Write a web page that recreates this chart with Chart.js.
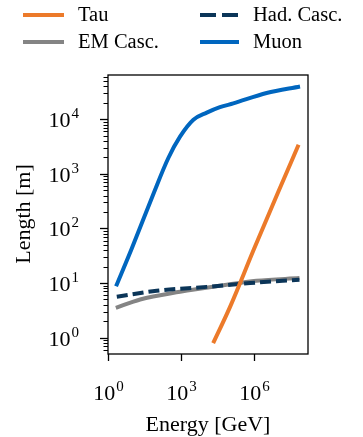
<!DOCTYPE html>
<html>
<head>
<meta charset="utf-8">
<script src="https://cdn.jsdelivr.net/npm/chart.js@4/dist/chart.umd.min.js"></script>
<style>
  html, body { margin: 0; padding: 0; background: #fff; }
  #wrap { width: 363px; height: 437px; }
</style>
</head>
<body>
<div id="wrap"><canvas id="lengthChart" width="363" height="437"></canvas></div>
<script>
// energies in GeV, lengths in m
const muonEnergy = [2.14, 9.3, 72, 302, 912, 3240, 11500, 39800, 141000, 3.3e6, 7.8e7];
const muonLength = [8.7, 42, 420, 1950, 4790, 9770, 13200, 16600, 19500, 30200, 39800];
const tauEnergy = [2.1e4, 1.05e5, 1e6, 1e7, 6.8e7];
const tauLength = [0.79, 3.7, 42, 470, 3400];
const emEnergy = [2.1, 21, 912, 5.5e4, 1.26e6, 7.4e7];
const emLength = [3.5, 5.0, 6.9, 9.1, 11, 12.3];
const hadEnergy = [2.3, 100, 11500, 6.9e5, 7.4e7];
const hadLength = [5.6, 7.2, 8.5, 10, 11.5];

const xTickExps = [0, 3, 6];
const yTickExps = [0, 1, 2, 3, 4];

const SERIF = '"Liberation Serif", "Times New Roman", serif';

function pts(xs, ys) {
  return xs.map((x, i) => ({ x: x, y: ys[i] }));
}

// legend order matches the two-column layout (row by row)
const series = [
  { label: "Tau", color: "#ec7a2a", xs: tauEnergy, ys: tauLength, dash: [] },
  { label: "Had. Casc.", color: "#0b3558", xs: hadEnergy, ys: hadLength, dash: [11, 5] },
  { label: "EM Casc.", color: "#848484", xs: emEnergy, ys: emLength, dash: [] },
  { label: "Muon", color: "#0066bf", xs: muonEnergy, ys: muonLength, dash: [] },
];

function drawPow(ctx, exp, x, baseline, align) {
  ctx.font = "22px " + SERIF;
  const wBase = ctx.measureText("10").width;
  ctx.font = "15px " + SERIF;
  const wExp = ctx.measureText(String(exp)).width;
  const total = wBase + wExp + 1;
  let left = align === "right" ? x - total : x - total / 2;
  ctx.textAlign = "left";
  ctx.textBaseline = "alphabetic";
  ctx.font = "22px " + SERIF;
  ctx.fillText("10", left, baseline);
  ctx.font = "15px " + SERIF;
  ctx.fillText(String(exp), left + wBase + 1, baseline - 9);
}

const axesPlugin = {
  id: "axesPlugin",
  afterDraw(chart) {
    const ctx = chart.ctx;
    const a = chart.chartArea;
    const xs = chart.scales.x;
    const ys = chart.scales.y;
    ctx.save();
    ctx.strokeStyle = "#000";
    ctx.fillStyle = "#000";
    ctx.lineWidth = 1.3;
    ctx.strokeRect(a.left, a.top, a.right - a.left, a.bottom - a.top);

    // x ticks
    xTickExps.forEach((e) => {
      const px = Math.round(xs.getPixelForValue(Math.pow(10, e))) + 0.5;
      ctx.beginPath();
      ctx.moveTo(px, a.bottom);
      ctx.lineTo(px, a.bottom + 7);
      ctx.stroke();
      drawPow(ctx, e, px, 400, "center");
    });

    // y ticks, major and minor
    for (let e = -1; e <= 5; e++) {
      for (let m = 1; m <= 9; m++) {
        const v = m * Math.pow(10, e);
        if (v < ys.min || v > ys.max) continue;
        const py = Math.round(ys.getPixelForValue(v)) + 0.5;
        ctx.lineWidth = m === 1 ? 1.3 : 1;
        ctx.beginPath();
        ctx.moveTo(a.left, py);
        ctx.lineTo(a.left - (m === 1 ? 8 : 4.5), py);
        ctx.stroke();
      }
    }
    yTickExps.forEach((e) => {
      const py = ys.getPixelForValue(Math.pow(10, e));
      drawPow(ctx, e, 79, py + 8, "right");
    });

    // axis titles
    ctx.font = "22px " + SERIF;
    ctx.textAlign = "center";
    ctx.textBaseline = "alphabetic";
    ctx.fillText("Energy [GeV]", (a.left + a.right) / 2, 431);
    ctx.save();
    ctx.translate(30, 214);
    ctx.rotate(-Math.PI / 2);
    ctx.fillText("Length [m]", 0, 0);
    ctx.restore();

    // legend, two columns
    const cols = [{ x0: 23, x1: 64, tx: 78 }, { x0: 200, x1: 239, tx: 253 }];
    const rows = [15, 42];
    ctx.font = "20.5px " + SERIF;
    ctx.textAlign = "left";
    ctx.textBaseline = "middle";
    series.forEach((s, i) => {
      const c = cols[i % 2];
      const y = rows[Math.floor(i / 2)];
      ctx.strokeStyle = s.color;
      ctx.lineWidth = 4;
      ctx.setLineDash(s.dash.length ? [16, 6] : []);
      ctx.beginPath();
      ctx.moveTo(c.x0, y);
      ctx.lineTo(c.x1, y);
      ctx.stroke();
      ctx.setLineDash([]);
      ctx.fillStyle = "#000";
      ctx.fillText(s.label, c.tx, y + 1);
    });
    ctx.restore();
  },
};

new Chart(document.getElementById("lengthChart"), {
  type: "line",
  data: {
    datasets: series.map((s) => ({
      label: s.label,
      data: pts(s.xs, s.ys),
      borderColor: s.color,
      backgroundColor: s.color,
      borderWidth: 4,
      borderDash: s.dash,
      pointRadius: 0,
      cubicInterpolationMode: "monotone",
      fill: false,
    })),
  },
  options: {
    responsive: false,
    animation: false,
    layout: { padding: { left: 108, right: 55, top: 75, bottom: 83 } },
    plugins: { legend: { display: false }, tooltip: { enabled: false } },
    scales: {
      x: { type: "logarithmic", min: 1, max: Math.pow(10, 8.22), display: false },
      y: { type: "logarithmic", min: Math.pow(10, -0.3), max: Math.pow(10, 4.81), display: false },
    },
  },
  plugins: [axesPlugin],
});
</script>
</body>
</html>
